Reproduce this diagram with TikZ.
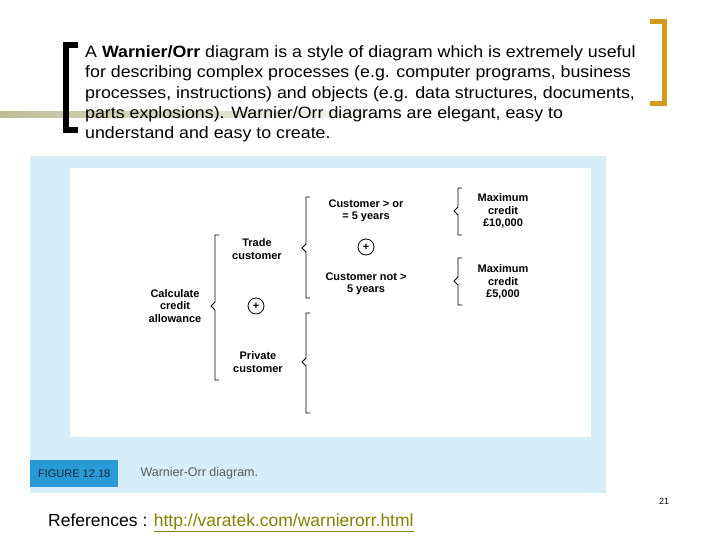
\documentclass[tikz,border=0pt]{standalone}
\usepackage{fontspec}
\setmainfont{Liberation Sans}
\begin{document}
\begin{tikzpicture}[x=1pt,y=-1pt,
  lbl/.style={font=\bfseries\fontsize{11}{12.5}\selectfont,align=center,inner sep=1pt},
  brc/.style={draw=black,line width=0.8pt},
  plus/.style={circle,draw,line width=0.8pt,inner sep=1pt,minimum size=16,font=\bfseries\fontsize{11}{11}\selectfont}]
\useasboundingbox (0,0) rectangle (720,540);
\fill[white] (0,0) rectangle (720,540);
% olive bar
\shade[left color={rgb,255:red,190;green,190;blue,150},right color=white] (0,112) rectangle (420,118);
% brackets
\draw[line width=6pt,line join=miter] (78,45) -- (66,45) -- (66,130) -- (78,130);
\draw[line width=5pt,color={rgb,255:red,210;green,155;blue,30},line join=miter] (650,22) -- (664,22) -- (664,104) -- (650,104);
% text
\node[anchor=west,font=\fontsize{17.8}{22}\selectfont,align=left,inner sep=0,xscale=1,yscale=0.92] (intro) at (85,94)
 {A \textbf{Warnier/Orr} diagram is a style of diagram which is extremely useful\\
 for describing complex processes (e.g. computer programs, business\\
 processes, instructions) and objects (e.g. data structures, documents,\\
 parts explosions). Warnier/Orr diagrams are elegant, easy to\\
 understand and easy to create.};
% panel
\fill[color={rgb,255:red,214;green,238;blue,249}] (30,156) rectangle (606,493);
\fill[white] (70,168) rectangle (591,437);
\node[fill={rgb,255:red,40;green,155;blue,215},minimum width=88,minimum height=27,anchor=north west,inner sep=0,font=\fontsize{11}{11}\selectfont,text={rgb,255:red,20;green,40;blue,60}] (fig) at (30,460) {FIGURE 12.18};
\node[anchor=west,font=\fontsize{12.5}{12}\selectfont,text={rgb,255:red,90;green,90;blue,90}] (cap) at (137,473) {Warnier-Orr diagram.};
% diagram
\node[lbl] (calc) at (175,306) {Calculate\\credit\\allowance};
\node[lbl] (trade) at (257,249) {Trade\\customer};
\node[plus] (p1) at (256,306) {+};
\node[lbl] (priv) at (258,362) {Private\\customer};
\node[lbl] (c5) at (366,211) {Customer > or\\= 5 years};
\node[plus] (p2) at (366,247) {+};
\node[lbl] (cn5) at (366,284) {Customer not >\\5 years};
\node[lbl] (m1) at (503,211) {Maximum\\credit\\£10,000};
\node[lbl] (m2) at (503,282) {Maximum\\credit\\£5,000};
\foreach \x/\t/\m/\b in {215/235/306/380, 306/197/248/298, 306/313/362/413, 458/188/211/235, 458/258/281/305}{
  \draw[brc] (\x+4,\t) -- (\x,\t) -- (\x,\m-4) -- (\x-4,\m) -- (\x,\m+4) -- (\x,\b) -- (\x+4,\b);
}
\node[font=\fontsize{9}{9}\selectfont] (pg) at (664,501) {21};
\node[anchor=west,font=\fontsize{17.5}{17}\selectfont,inner sep=0] (ref) at (48,523) {References : \textcolor[RGB]{130,130,0}{\underline{http://varatek.com/warnierorr.html}}};
\end{tikzpicture}
\end{document}
